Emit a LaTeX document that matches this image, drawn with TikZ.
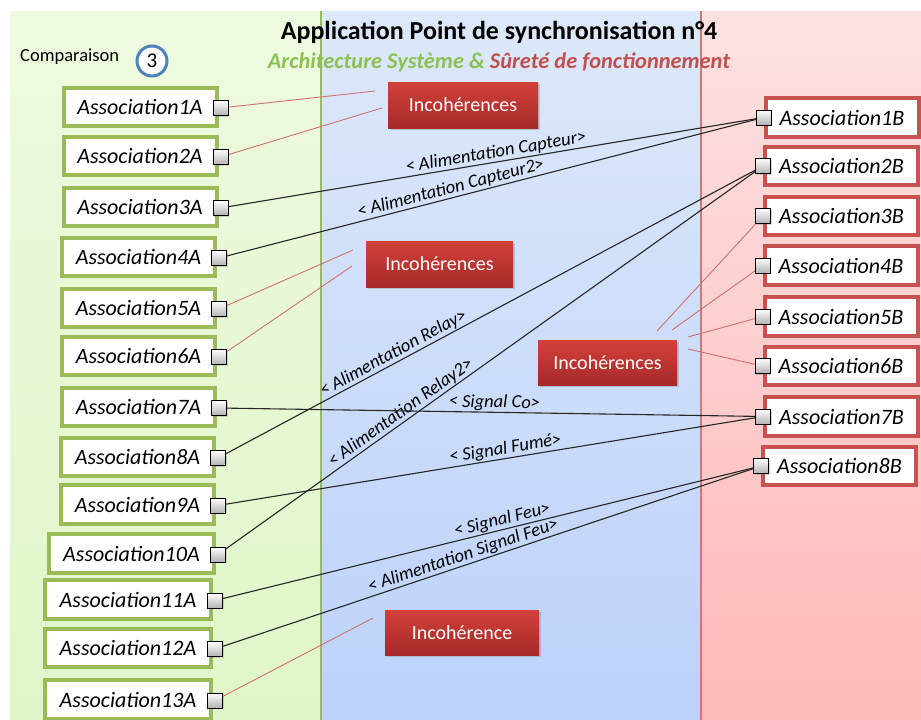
\documentclass[tikz,border=0pt]{standalone}
\usepackage{fontspec}
\setmainfont{Carlito}
\usetikzlibrary{shadows}
\definecolor{grnB}{HTML}{9BBB59}
\definecolor{redB}{HTML}{C8524F}
\definecolor{redLine}{HTML}{D07070}
\definecolor{subG}{HTML}{8CC152}
\definecolor{subR}{HTML}{C0504D}
\definecolor{incoTop}{HTML}{D3403A}
\definecolor{incoBot}{HTML}{A52A28}
\definecolor{circB}{HTML}{4F81BD}
\pgfdeclarelayer{bg}
\pgfdeclarelayer{mid}
\pgfsetlayers{bg,mid,main}
\tikzset{
  boxA/.style={draw=grnB, line width=4pt, fill=white, inner sep=0pt, minimum width=153pt, minimum height=38.5pt,
    font=\fontsize{22}{24}\selectfont\itshape, drop shadow={opacity=0.25, shadow xshift=1.5pt, shadow yshift=-1.5pt}},
  boxB/.style={boxA, draw=redB},
  port/.style={draw=black, line width=1pt, minimum size=15pt, inner sep=0pt, top color=white, bottom color=black!30,
    drop shadow={opacity=0.3, shadow xshift=1pt, shadow yshift=-1pt}},
  inco/.style={inner sep=0pt, top color=incoTop, bottom color=incoBot, text=white,
    font=\fontsize{20}{22}\selectfont, drop shadow={opacity=0.35, shadow xshift=2pt, shadow yshift=-2pt}},
  conn/.style={draw=black!85, line width=1.1pt},
  redconn/.style={draw=redLine, line width=0.9pt},
  lbl/.style={sloped, above, inner sep=1pt, font=\fontsize{18.5}{20}\selectfont\itshape, text=black}
}
\begin{document}
\begin{tikzpicture}[x=1pt,y=-1pt]
\useasboundingbox (0,0) rectangle (921,720);
\begin{pgfonlayer}{bg}
  \fill[white] (0,0) rectangle (921,720);
  \shade[top color={rgb,255:red,238;green,250;blue,224}, bottom color={rgb,255:red,224;green,246;blue,200}] (10,11) rectangle (321,720);
  \shade[top color={rgb,255:red,221;green,232;blue,250}, bottom color={rgb,255:red,188;green,210;blue,250}] (321,11) rectangle (701,720);
  \shade[top color={rgb,255:red,253;green,225;blue,225}, bottom color={rgb,255:red,255;green,185;blue,185}] (701,11) rectangle (921,720);
  \draw[grnB, line width=1.5pt] (321,11) -- (321,720);
  \draw[redB!80, line width=1.5pt] (701,11) -- (701,720);
\end{pgfonlayer}

% titles
\node (title) at (499,32) {\fontsize{26}{28}\selectfont\bfseries Application Point de synchronisation n°4};
\node (sub) at (499,62) {\fontsize{22.4}{24}\selectfont\bfseries\itshape\textcolor{subG}{Architecture Système \&} \textcolor{subR}{Sûreté de fonctionnement}};
\node[anchor=west, inner sep=0pt] (comp) at (20,57) {\fontsize{18.5}{20}\selectfont Comparaison};
\node[circle, draw=circB, line width=3pt, fill=white, minimum size=30pt, inner sep=0pt, font=\fontsize{21}{22}\selectfont] (three) at (152,61) {3};

% left boxes
\node[boxA] (a1) at (140,107) {Association1A};
\node[boxA] (a2) at (140,156) {Association2A};
\node[boxA] (a3) at (140,207) {Association3A};
\node[boxA] (a4) at (138.5,257) {Association4A};
\node[boxA] (a5) at (138.5,308) {Association5A};
\node[boxA] (a6) at (138.5,356) {Association6A};
\node[boxA] (a7) at (138.5,407) {Association7A};
\node[boxA] (a8) at (137.5,457) {Association8A};
\node[boxA] (a9) at (137.5,504.5) {Association9A};
\node[boxA, minimum width=165pt] (a10) at (131.5,553.5) {Association10A};
\node[boxA, minimum width=166pt] (a11) at (128,599.5) {Association11A};
\node[boxA, minimum width=166pt] (a12) at (128,648) {Association12A};
\node[boxA, minimum width=166pt] (a13) at (128,699.5) {Association13A};

% right boxes
\node[boxB] (b1) at (842,117.5) {Association1B};
\node[boxB] (b2) at (841.5,166) {Association2B};
\node[boxB] (b3) at (841.5,216) {Association3B};
\node[boxB] (b4) at (841,265.5) {Association4B};
\node[boxB] (b5) at (841,316.5) {Association5B};
\node[boxB] (b6) at (841,366) {Association6B};
\node[boxB] (b7) at (841.5,416.5) {Association7B};
\node[boxB] (b8) at (839.5,466) {Association8B};

% ports
\foreach \i in {1,...,13} { \node[port] (pa\i) at ([xshift=2pt,yshift=-1pt]a\i.east) {}; }
\foreach \i in {1,...,8} { \node[port] (pb\i) at (b\i.west) {}; }

% incoherence boxes
\node[inco, minimum width=150pt, minimum height=46pt] (i1) at (463,105) {Incohérences};
\node[inco, minimum width=147pt, minimum height=46pt] (i2) at (439.5,264) {Incohérences};
\node[inco, minimum width=139pt, minimum height=45pt] (i3) at (607.5,362.5) {Incohérences};
\node[inco, minimum width=154pt, minimum height=45pt] (i4) at (462,632.5) {Incohérence};

% free ends of red lines
\coordinate (r1) at (375,91);
\coordinate (r2) at (382,108);
\coordinate (r5) at (353,250);
\coordinate (r6) at (352,266);
\coordinate (r13) at (373,618);
\coordinate (s3) at (657,331);
\coordinate (s4) at (672,330);
\coordinate (s5) at (688,337);
\coordinate (s6) at (688,349);

\begin{pgfonlayer}{mid}
  \draw[redconn] (pa1.center) -- (r1);
  \draw[redconn] (pa2.center) -- (r2);
  \draw[redconn] (pa5.center) -- (r5);
  \draw[redconn] (pa6.center) -- (r6);
  \draw[redconn] (pa13.center) -- (r13);
  \draw[redconn] (s3) -- (pb3.center);
  \draw[redconn] (s4) -- (pb4.center);
  \draw[redconn] (s5) -- (pb5.center);
  \draw[redconn] (s6) -- (pb6.center);

  \draw[conn] (pa3.center) -- node[lbl, pos=0.51] {< Alimentation Capteur>} (pb1.center);
  \draw[conn] (pa4.center) -- node[lbl, pos=0.43] {< Alimentation Capteur2>} (pb1.center);
  \draw[conn] (pa8.center) -- node[lbl, pos=0.33] {< Alimentation Relay>} (pb2.center);
  \draw[conn] (pa10.center) -- node[lbl, pos=0.345] {< Alimentation Relay2>} (pb2.center);
  \draw[conn] (pa7.center) -- node[lbl, pos=0.506] {< Signal Co>} (pb7.center);
  \draw[conn] (pa9.center) -- node[lbl, pos=0.53] {< Signal Fumé>} (pb7.center);
  \draw[conn] (pa11.center) -- node[lbl, pos=0.53] {< Signal Feu>} (pb8.center);
  \draw[conn] (pa12.center) -- node[lbl, pos=0.46] {< Alimentation Signal Feu>} (pb8.center);
\end{pgfonlayer}
\end{tikzpicture}
\end{document}
